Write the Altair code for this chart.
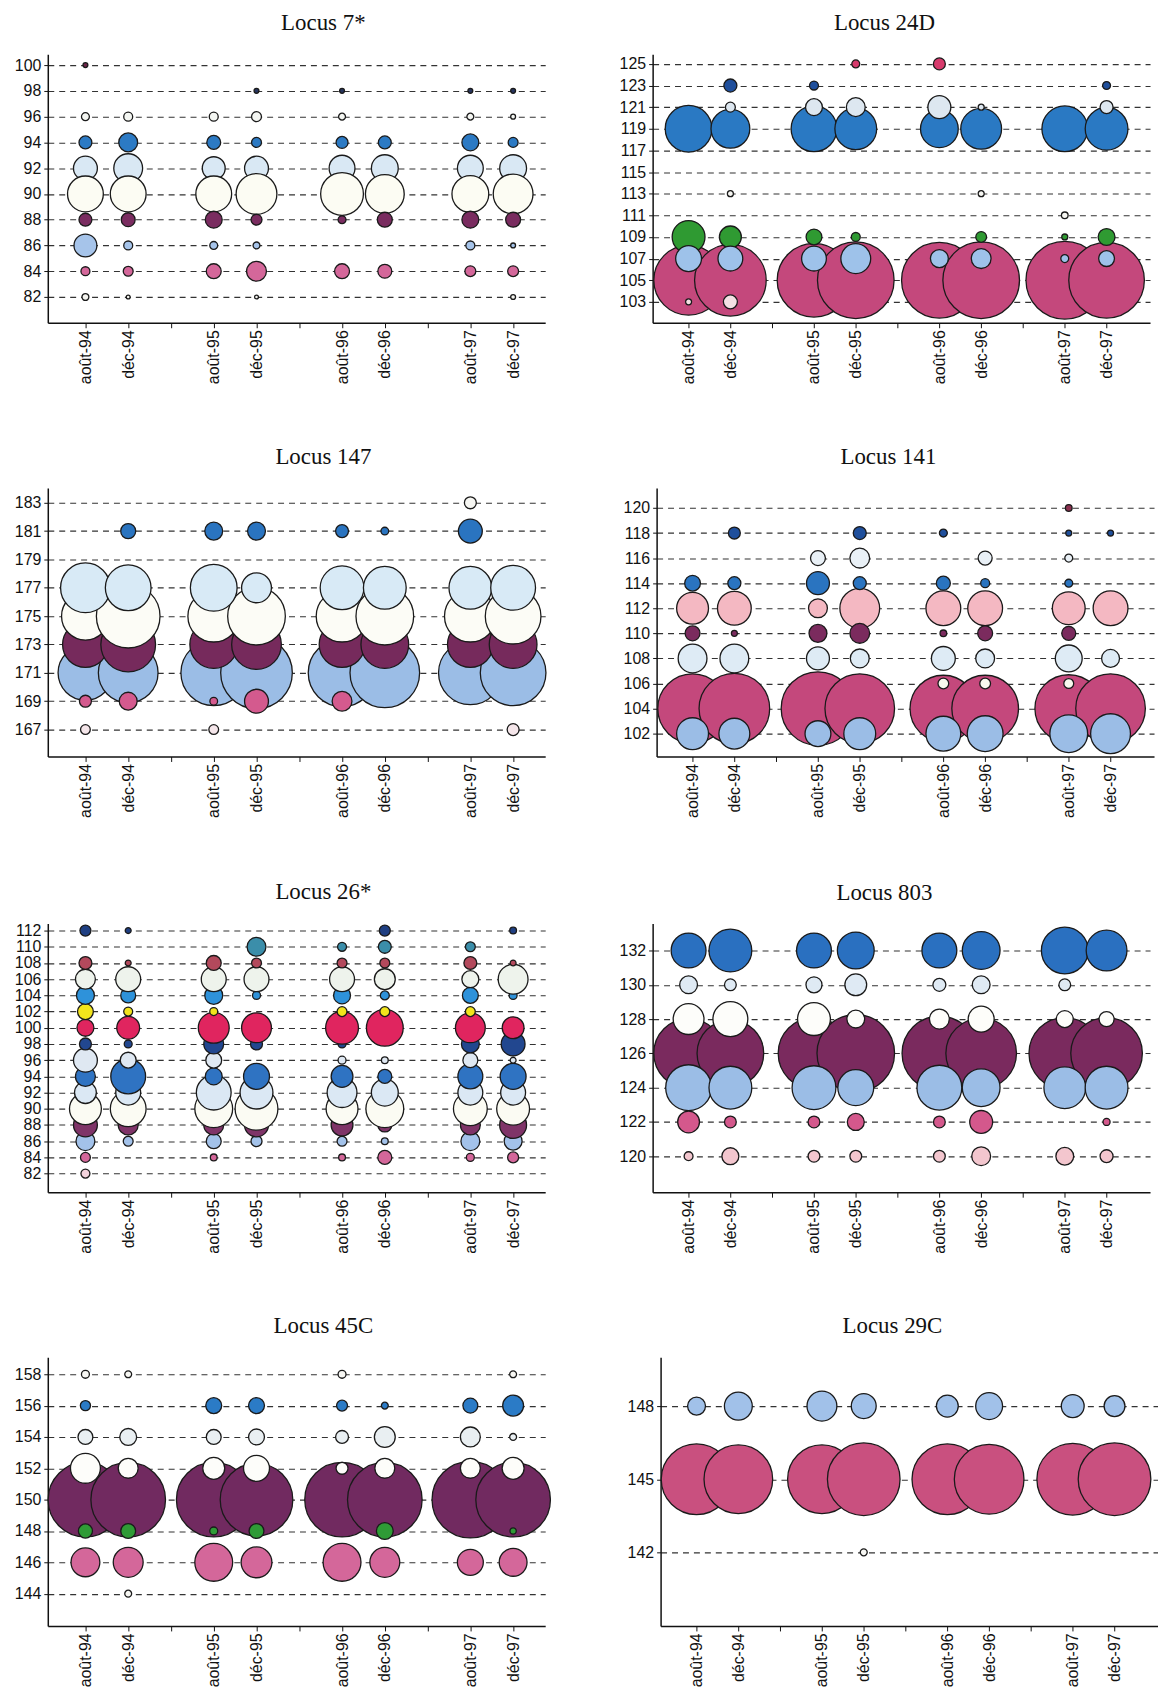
import altair as alt
import pandas as pd

# ---------------- shared sample axis ----------------
SAMPLES = ["août-94", "déc-94", "août-95", "déc-95", "août-96", "déc-96", "août-97", "déc-97"]
SLOTS = [0, 1, 3, 4, 6, 7, 9, 10]          # category slot of each sample (blank slot between years)
SLOT_LABELS = ["août-94", "déc-94", "", "août-95", "déc-95", "", "août-96", "déc-96", "", "août-97", "déc-97"]

# ---------------- Locus 7* ----------------
L7_ALLELES = [100, 98, 96, 94, 92, 90, 88, 86, 84, 82]
L7_COLORS = ["#6d2548", "#27355f", "#f4f6f2", "#2c7ac4", "#d9e8f4", "#fcfcf3", "#7a2c60", "#a6c4ea", "#d4679a", "#f4f4ef"]
L7_FREQ = [
    [0.8, 0, 0, 0, 0, 0, 0, 0],
    [0, 0, 0, 0.8, 0.8, 0, 0.8, 0.8],
    [2.1, 2.7, 2.7, 3.3, 1.6, 0, 1.6, 0.8],
    [5.6, 12.0, 6.5, 3.3, 4.8, 5.6, 9.6, 3.3],
    [19.2, 28.0, 17.6, 19.2, 22.5, 24.3, 22.5, 24.3],
    [43.2, 43.2, 43.2, 56.0, 61.6, 50.7, 45.6, 53.3],
    [5.6, 6.5, 9.6, 4.0, 2.1, 7.5, 9.6, 7.5],
    [17.6, 2.7, 2.1, 1.6, 0, 0, 2.7, 0.8],
    [2.7, 3.3, 7.5, 13.3, 7.5, 6.5, 4.0, 4.0],
    [1.6, 0.5, 0, 0.5, 0, 0, 0, 0.8],
]
L7_TICKS = [82, 84, 86, 88, 90, 92, 94, 96, 98, 100]

# ---------------- Locus 24D ----------------
L24_ALLELES = [105, 103, 109, 107, 119, 121, 123, 125, 113, 111]
L24_COLORS = ["#c4487c", "#f4e0e4", "#2f9a32", "#9ec2ea", "#2a79c3", "#dde7f0", "#1f4f9c", "#d73a6c", "#f6f6f2", "#f6f6f2"]
L24_FREQ = [
    [54.4, 57.6, 60.8, 65.9, 64.2, 65.9, 67.6, 64.2],
    [0.4, 2.2, 0, 0, 0, 0, 0, 0],
    [12.1, 5.4, 2.8, 0.9, 0, 1.3, 0.4, 3.2],
    [7.5, 6.9, 6.9, 10.0, 3.6, 4.4, 0.7, 2.8],
    [24.5, 16.9, 23.5, 19.6, 16.0, 18.7, 23.5, 20.5],
    [0, 1.1, 3.2, 4.0, 5.9, 0.4, 0, 1.9],
    [0, 1.9, 0.9, 0, 0, 0, 0, 0.7],
    [0, 0, 0, 0.7, 1.6, 0, 0, 0],
    [0, 0.4, 0, 0, 0, 0.4, 0, 0],
    [0, 0, 0, 0, 0, 0, 0.5, 0],
]
L24_TICKS = [103, 105, 107, 109, 111, 113, 115, 117, 119, 121, 123, 125]

# ---------------- Locus 147 ----------------
L147_ALLELES = [171, 173, 175, 177, 169, 167, 181, 183]
L147_COLORS = ["#9bbde6", "#762a5c", "#fcfcf6", "#d8eaf6", "#d45a8e", "#f5e6ea", "#2a74c0", "#f7f7f3"]
L147_FREQ = [
    [25.2, 30.0, 36.3, 43.2, 38.5, 40.8, 34.1, 36.3],
    [17.6, 25.2, 19.2, 20.8, 17.6, 19.2, 17.6, 19.2],
    [19.2, 34.1, 22.5, 28.0, 22.5, 28.0, 22.5, 26.1],
    [20.8, 17.6, 18.4, 7.5, 16.1, 15.4, 15.4, 16.9],
    [1.2, 2.7, 0.5, 4.8, 3.3, 0, 0, 0],
    [0.8, 0, 0.8, 0, 0, 0, 0, 1.2],
    [0, 1.9, 2.7, 2.7, 1.4, 0.5, 4.8, 0],
    [0, 0, 0, 0, 0, 0, 1.2, 0],
]
L147_TICKS = [167, 169, 171, 173, 175, 177, 179, 181, 183]

# ---------------- Locus 141 ----------------
L141_ALLELES = [104, 102, 106, 108, 112, 110, 114, 116, 118, 120]
L141_COLORS = ["#c4487c", "#9bbde6", "#f8f8ee", "#deebf5", "#f4b8c2", "#7b2b5e", "#2a74c0", "#e9f0f6", "#1f4f9c", "#8c3050"]
L141_FREQ = [
    [54.4, 56.0, 60.8, 54.4, 49.9, 49.9, 51.4, 54.4],
    [11.4, 10.7, 7.5, 11.4, 13.6, 14.4, 16.0, 17.8],
    [0, 0, 0, 0, 1.3, 1.3, 1.1, 0],
    [9.3, 9.3, 5.9, 4.0, 6.4, 4.0, 8.1, 3.6],
    [11.4, 12.8, 4.0, 17.8, 13.6, 13.6, 12.1, 13.6],
    [2.5, 0.4, 3.6, 4.4, 0.5, 2.5, 2.2, 0],
    [2.8, 1.9, 5.9, 1.9, 2.2, 0.9, 0.7, 0],
    [0, 0, 2.5, 4.4, 0, 2.2, 0.7, 0],
    [0, 1.6, 0, 1.9, 0.7, 0, 0.4, 0.4],
    [0, 0, 0, 0, 0, 0, 0.5, 0],
]
L141_TICKS = [102, 104, 106, 108, 110, 112, 114, 116, 118, 120]

# ---------------- Locus 26* ----------------
L26_ALLELES = [82, 84, 86, 88, 90, 92, 94, 96, 98, 100, 102, 104, 106, 108, 110, 112]
L26_COLORS = ["#f3d3dc", "#d4679a", "#a3c2ea", "#7f3468", "#fbfbf3", "#dbe8f4", "#2f73c2", "#dfe8f2",
              "#22478f", "#e0255f", "#f2e41c", "#2e92da", "#eef3ec", "#b3495c", "#3b8eaa", "#1f3f82"]
L26_FREQ = [
    [1.4, 0, 0, 0, 0, 0, 0, 0],
    [1.7, 0, 0.8, 0, 0.8, 3.4, 1.1, 2.1],
    [6.2, 1.7, 3.9, 2.1, 1.7, 0.8, 6.2, 5.6],
    [9.9, 6.9, 6.9, 9.9, 8.3, 3.4, 6.9, 12.6],
    [17.7, 22.3, 24.9, 31.9, 17.7, 24.9, 19.9, 18.8],
    [8.3, 10.8, 21.1, 18.8, 15.5, 12.6, 10.8, 10.8],
    [6.9, 21.1, 5.0, 11.7, 8.3, 3.4, 10.8, 11.7],
    [9.9, 4.4, 4.4, 0, 1.1, 0.8, 3.9, 0.6],
    [2.5, 1.1, 6.9, 2.5, 1.1, 0, 5.6, 9.9],
    [5.0, 9.1, 16.6, 15.5, 18.8, 23.6, 15.5, 8.3],
    [4.4, 1.4, 1.1, 0, 1.7, 1.7, 1.7, 0],
    [5.6, 3.9, 5.6, 1.1, 5.0, 1.4, 4.4, 1.1],
    [6.9, 10.8, 10.8, 10.8, 10.8, 7.6, 5.0, 15.5],
    [2.9, 0.6, 3.9, 1.7, 1.7, 1.7, 2.9, 0.6],
    [0, 0, 0, 6.2, 1.4, 2.9, 1.7, 0],
    [2.1, 0.6, 0, 0, 0, 2.1, 0, 0.8],
]
L26_TICKS = list(range(82, 113, 2))

# ---------------- Locus 803 ----------------
L803_ALLELES = [126, 124, 128, 130, 132, 122, 120]
L803_COLORS = ["#7a2a5e", "#9bbde6", "#fdfdfa", "#dfeaf4", "#2a70c0", "#d4588c", "#f3c6ce"]
L803_FREQ = [
    [49.0, 44.9, 51.8, 60.8, 56.3, 50.4, 51.8, 51.8],
    [21.2, 18.5, 19.4, 13.0, 20.3, 14.4, 17.6, 18.5],
    [9.6, 12.3, 10.9, 3.2, 4.0, 6.8, 2.9, 2.3],
    [3.2, 1.4, 2.6, 4.8, 1.7, 3.2, 1.4, 0],
    [12.3, 18.5, 12.3, 13.7, 12.3, 14.4, 22.1, 16.8],
    [4.8, 1.4, 1.4, 2.9, 1.4, 5.3, 0, 0.5],
    [0.8, 2.9, 1.4, 1.4, 1.4, 3.6, 3.2, 1.7],
]
L803_TICKS = [120, 122, 124, 126, 128, 130, 132]

# ---------------- Locus 45C ----------------
L45_ALLELES = [150, 152, 148, 146, 154, 156, 158, 144]
L45_COLORS = ["#712a60", "#fdfdfa", "#2f9b36", "#d4679a", "#e9eff2", "#2b7bc6", "#f7f7f3", "#f7f7f3"]
L45_FREQ = [
    [70.3, 70.3, 70.3, 66.6, 70.3, 70.3, 74.1, 70.3],
    [11.3, 5.0, 6.1, 8.5, 1.8, 5.0, 5.0, 6.1],
    [2.5, 2.8, 0.8, 2.8, 0, 3.6, 0, 0.5],
    [10.5, 11.3, 18.1, 12.0, 18.1, 11.3, 8.5, 9.8],
    [2.8, 3.6, 2.8, 3.2, 2.1, 5.5, 5.0, 0.6],
    [1.3, 0, 3.2, 3.2, 1.5, 0.6, 2.8, 5.5],
    [0.8, 0.6, 0, 0, 0.8, 0, 0, 0.6],
    [0, 0.6, 0, 0, 0, 0, 0, 0],
]
L45_TICKS = [144, 146, 148, 150, 152, 154, 156, 158]

# ---------------- Locus 29C ----------------
L29_ALLELES = [145, 148, 142]
L29_COLORS = ["#c9507f", "#a1c1e9", "#f7f7f3"]
L29_FREQ = [
    [91.7, 86.6, 86.6, 96.9, 91.7, 89.1, 94.3, 96.9],
    [5.9, 14.3, 16.4, 11.4, 8.8, 13.3, 9.6, 8.0],
    [0, 0, 0, 0.9, 0, 0, 0, 0],
]
L29_TICKS = [142, 145, 148]

# ---------------- layout / styling (not data) ----------------
PANELS = [
    # title, alleles, colors, freq, ticks, y-domain, bubble area per 1 %, column
    ("Locus 7*", L7_ALLELES, L7_COLORS, L7_FREQ, L7_TICKS, [80.0, 100.85], 30, 0),
    ("Locus 24D", L24_ALLELES, L24_COLORS, L24_FREQ, L24_TICKS, [101.07, 125.9], 90, 1),
    ("Locus 147", L147_ALLELES, L147_COLORS, L147_FREQ, L147_TICKS, [165.1, 184.05], 120, 0),
    ("Locus 141", L141_ALLELES, L141_COLORS, L141_FREQ, L141_TICKS, [100.18, 121.6], 90, 1),
    ("Locus 26*", L26_ALLELES, L26_COLORS, L26_FREQ, L26_TICKS, [79.7, 112.86], 58, 0),
    ("Locus 803", L803_ALLELES, L803_COLORS, L803_FREQ, L803_TICKS, [117.9, 133.57], 100, 1),
    ("Locus 45C", L45_ALLELES, L45_COLORS, L45_FREQ, L45_TICKS, [141.94, 159.08], 80, 0),
    ("Locus 29C", L29_ALLELES, L29_COLORS, L29_FREQ, L29_TICKS, [138.98, 150.0], 55, 1),
]
X_DOMAINS = [[-0.88, 10.75], [-0.86, 11.04]]
TITLE_DX = [27, -17]
W, H = 500, 270

label_expr = "[" + ",".join("'" + s + "'" for s in SLOT_LABELS) + "][datum.value]"


def panel(title, alleles, colors, freq, ticks, ydom, area, col):
    rows = []
    for k, allele in enumerate(alleles):
        for j, f in enumerate(freq[k]):
            if f > 0:
                rows.append({"slot": SLOTS[j], "sample": SAMPLES[j], "allele": allele,
                             "freq": f, "color": colors[k], "draw": k * 10 + j})
    df = pd.DataFrame(rows)
    return (
        alt.Chart(df)
        .mark_circle(opacity=1, stroke="#1a1a1a", strokeWidth=1.3)
        .encode(
            x=alt.X("slot:Q",
                    scale=alt.Scale(domain=X_DOMAINS[col], nice=False, zero=False),
                    axis=alt.Axis(values=list(range(11)), labelExpr=label_expr, title=None,
                                  grid=False, labelAngle=270, labelFlush=False,
                                  labelOverlap=False, tickSize=5, labelPadding=2,
                                  labelFontSize=16)),
            y=alt.Y("allele:Q",
                    scale=alt.Scale(domain=ydom, nice=False, zero=False),
                    axis=alt.Axis(values=ticks, title=None, grid=True, labelFlush=False,
                                  labelOverlap=False, tickSize=4, labelPadding=3,
                                  labelFontSize=16,
                                  gridDash=[6, 5], gridColor="#333333", gridWidth=1.1)),
            size=alt.Size("freq:Q", scale=alt.Scale(type="linear", domain=[0, 100], range=[0, 100 * area]),
                          legend=None),
            fill=alt.Fill("color:N", scale=None),
            order=alt.Order("draw:Q"),
        )
        .properties(width=W, height=H,
                    title=alt.TitleParams(title, dx=TITLE_DX[col], offset=19))
    )


charts = [panel(*p) for p in PANELS]
rows = [alt.hconcat(charts[i], charts[i + 1], spacing=74).resolve_scale(size="independent")
        for i in range(0, 8, 2)]
chart = (
    alt.vconcat(*rows, spacing=62)
    .resolve_scale(size="independent")
    .configure_view(stroke=None)
    .configure_axis(labelFont="Liberation Sans", labelColor="#111",
                    domainColor="#111", domainWidth=1.5, tickColor="#111", tickWidth=1)
    .configure_title(font="Liberation Serif", fontSize=23, fontWeight="normal", color="#111",
                     anchor="middle")
    .properties(background="white", padding={"left": 6, "top": 0, "right": 0, "bottom": 0})
)

chart.save("out.html", embed_options={"renderer": "svg", "actions": False})
